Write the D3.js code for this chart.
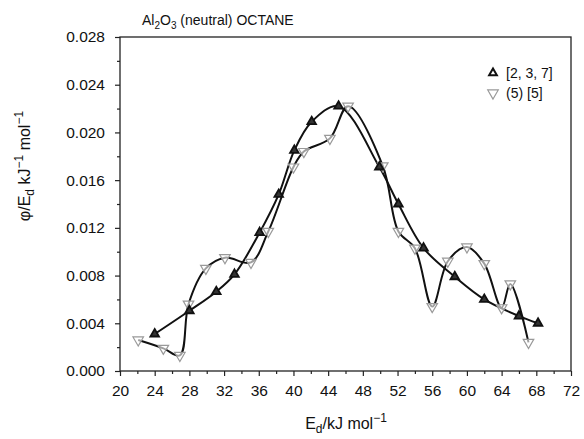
<!DOCTYPE html>
<html><head><meta charset="utf-8">
<script src="https://cdn.jsdelivr.net/npm/d3@7"></script>
<style>body{margin:0;background:#fff}svg{display:block}text{font-family:"Liberation Sans",Arial,sans-serif;fill:#111}</style>
</head><body><svg id="c" width="584" height="439"></svg>
<script>
// Series [2, 3, 7] (filled triangles)
const s1x = [24, 28, 31.1, 33.2, 36.1, 38.3, 40.1, 42.1, 45.2, 49.9, 52.1, 55.0, 58.6, 62.0, 66.0, 68.2];
const s1y = [0.0031, 0.00505, 0.00665, 0.0081, 0.0116, 0.0148, 0.0185, 0.0209, 0.0222, 0.0171, 0.0140, 0.0103, 0.0079, 0.0060, 0.0046, 0.0040];
// Series (5) [5] (open inverted triangles)
const s2x = [22.1, 25.0, 26.9, 27.9, 29.9, 32.1, 35.1, 37.1, 40.0, 41.2, 44.2, 46.3, 50.3, 52.1, 54.0, 56.0, 57.8, 60.0, 62.0, 64.0, 65.0, 67.1];
const s2y = [0.0026, 0.0019, 0.0013, 0.0056, 0.0086, 0.0095, 0.0091, 0.0117, 0.0171, 0.0184, 0.0195, 0.0222, 0.0172, 0.0117, 0.0103, 0.0054, 0.0092, 0.0104, 0.0090, 0.0053, 0.0073, 0.0024];
const xTicks = [20, 24, 28, 32, 36, 40, 44, 48, 52, 56, 60, 64, 68, 72];
const yTicks = [0.000, 0.004, 0.008, 0.012, 0.016, 0.020, 0.024, 0.028];
const legendLabels = ["[2, 3, 7]", "(5) [5]"];
const title = "OCTANE";

const svg = d3.select("#c");
const L = 120, R = 571, T = 37, B = 371;
const x = d3.scaleLinear().domain([20, 72]).range([L, R]);
const y = d3.scaleLinear().domain([0, 0.028]).range([B, T]);

// frame
svg.append("rect").attr("x", L).attr("y", T).attr("width", R - L).attr("height", B - T)
  .attr("fill", "none").attr("stroke", "#222").attr("stroke-width", 1.3);

// axes
const minorX = d3.range(22, 72, 4);
const minorY = d3.range(0.002, 0.028, 0.004);
const gx = svg.append("g").attr("transform", `translate(0,${B})`)
  .call(d3.axisBottom(x).tickValues(xTicks).tickFormat(d3.format("d")).tickSize(5).tickPadding(9));
const gxm = svg.append("g").attr("transform", `translate(0,${B})`)
  .call(d3.axisBottom(x).tickValues(minorX).tickFormat("").tickSize(3));
const gy = svg.append("g").attr("transform", `translate(${L},0)`)
  .call(d3.axisLeft(y).tickValues(yTicks).tickFormat(d3.format(".3f")).tickSize(5).tickPadding(10));
const gym = svg.append("g").attr("transform", `translate(${L},0)`)
  .call(d3.axisLeft(y).tickValues(minorY).tickFormat("").tickSize(3));
[gx, gxm, gy, gym].forEach(g => {
  g.select(".domain").remove();
  g.selectAll("line").attr("stroke", "#222").attr("stroke-width", 1.2);
  g.selectAll("text").style("font-size", "15.5px").attr("fill", "#111")
    .style("font-family", '"Liberation Sans", Arial, sans-serif');
});

// curves
const line = d3.line().x(d => x(d[0])).y(d => y(d[1])).curve(d3.curveCatmullRom.alpha(0.5));
const d1 = s1x.map((v, i) => [v, s1y[i]]);
const d2 = s2x.map((v, i) => [v, s2y[i]]);
svg.append("path").attr("d", line(d2)).attr("fill", "none").attr("stroke", "#111").attr("stroke-width", 2);
svg.append("path").attr("d", line(d1)).attr("fill", "none").attr("stroke", "#111").attr("stroke-width", 2);

const tri = d3.symbol().type(d3.symbolTriangle);
svg.append("g").selectAll("path").data(d2).join("path")
  .attr("d", tri.size(48)())
  .attr("transform", d => `translate(${x(d[0])},${y(d[1])}) rotate(180)`)
  .attr("fill", "#fff").attr("fill-opacity", 0.6).attr("stroke", "#999").attr("stroke-width", 1.2);
svg.append("g").selectAll("path").data(d1).join("path")
  .attr("d", tri.size(32)())
  .attr("transform", d => `translate(${x(d[0])},${y(d[1])})`)
  .attr("fill", "#333").attr("stroke", "#111").attr("stroke-width", 1.8);

// legend
svg.append("path").attr("d", tri.size(26)()).attr("transform", "translate(493,73)")
  .attr("fill", "#fff").attr("stroke", "#111").attr("stroke-width", 2);
svg.append("path").attr("d", tri.size(48)()).attr("transform", "translate(493,93) rotate(180)")
  .attr("fill", "#fff").attr("stroke", "#999").attr("stroke-width", 1.2);
svg.append("text").attr("x", 506).attr("y", 78).style("font-size", "14px").text(legendLabels[0]);
svg.append("text").attr("x", 506).attr("y", 98).style("font-size", "14px").text(legendLabels[1]);

// title
const tt = svg.append("text").attr("x", 142).attr("y", 25).style("font-size", "14px");
tt.append("tspan").text("Al");
tt.append("tspan").text("2").attr("dy", 4).style("font-size", "10px");
tt.append("tspan").text("O").attr("dy", -4);
tt.append("tspan").text("3").attr("dy", 4).style("font-size", "10px");
tt.append("tspan").text(" (neutral) " + title).attr("dy", -4);

// x label
const xl = svg.append("text").attr("x", 346).attr("y", 429).attr("text-anchor", "middle").style("font-size", "16px");
xl.append("tspan").text("E");
xl.append("tspan").text("d").attr("dy", 4).style("font-size", "12px");
xl.append("tspan").text("/kJ mol").attr("dy", -4);
xl.append("tspan").text("−1").attr("dy", -7).style("font-size", "12px");

// y label
const yl = svg.append("text").attr("transform", "translate(30,166) rotate(-90)").attr("text-anchor", "middle").style("font-size", "16px");
yl.append("tspan").text("φ/E");
yl.append("tspan").text("d").attr("dy", 4).style("font-size", "12px");
yl.append("tspan").text(" kJ").attr("dy", -4);
yl.append("tspan").text("−1").attr("dy", -7).style("font-size", "12px");
yl.append("tspan").text(" mol").attr("dy", 7);
yl.append("tspan").text("−1").attr("dy", -7).style("font-size", "12px");
</script></body></html>
